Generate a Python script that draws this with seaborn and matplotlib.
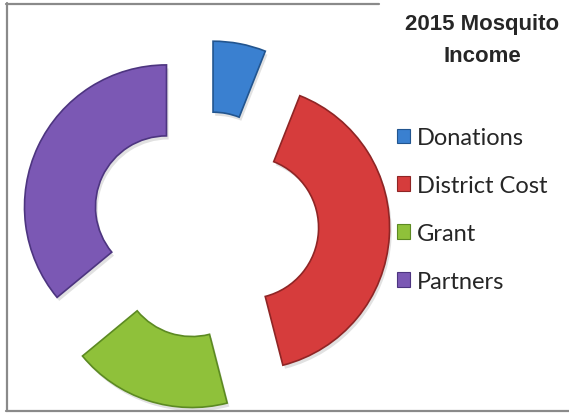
import matplotlib
matplotlib.use('Agg')
import matplotlib.pyplot as plt
import seaborn as sns
from matplotlib.lines import Line2D
from matplotlib.patches import Patch

# Income sources for 2015 (share of total)
sources = ['Donations', 'District Cost', 'Grant', 'Partners']
income = [6, 40, 18, 36]
title = '2015 Mosquito\nIncome'

colors = ['#3a80d0', '#d63c3c', '#8fc13a', '#7b58b4']
edge_colors = ['#22558f', '#8f2525', '#5c8a22', '#4d3580']

sns.set_theme(style='white')
plt.rcParams['font.family'] = ['Lato', 'DejaVu Sans']

fig = plt.figure(figsize=(5.69, 4.14), dpi=100)
ax = fig.add_axes([0, 0, 1, 1])

# soft shadow underneath the exploded ring
shadow, _ = ax.pie(income, colors=['#bdbdbd'] * 4, startangle=90, counterclock=False,
                   explode=[0.3] * 4, radius=1, center=(0.015, -0.025),
                   wedgeprops=dict(width=0.5, linewidth=0, alpha=0.45))

wedges, _ = ax.pie(income, colors=colors, startangle=90, counterclock=False,
                   explode=[0.3] * 4, radius=1,
                   wedgeprops=dict(width=0.5, linewidth=1.2))
for w, ec in zip(wedges, edge_colors):
    w.set_edgecolor(ec)

ax.set_aspect('auto')
ax.set_xlim(-1.444, 2.563)
ax.set_ylim(-1.324, 1.592)
ax.axis('off')

# legend with small square markers
handles = [Patch(facecolor=c, edgecolor=e, linewidth=0.8) for c, e in zip(colors, edge_colors)]
fig.legend(handles, sources, loc='upper left', bbox_to_anchor=(397 / 569, 1 - 128 / 414),
           frameon=False, fontsize=17, handlelength=0.55, handleheight=0.55,
           handletextpad=0.3, labelspacing=1.14, borderpad=0, borderaxespad=0)

fig.text(482 / 569, 1 - 14 / 414, title, ha='center', va='top', fontsize=16,
         fontweight='bold', family=['Liberation Sans', 'DejaVu Sans'], linespacing=1.7)

# partial chart frame (left, top, bottom)
gray = '#8a8a8a'
fig.add_artist(Line2D([7 / 569, 7 / 569], [1 - 4 / 414, 1 - 412 / 414], color=gray, lw=1.6))
fig.add_artist(Line2D([6 / 569, 379 / 569], [1 - 5 / 414, 1 - 5 / 414], color=gray, lw=1.6))
fig.add_artist(Line2D([6 / 569, 1], [1 - 412 / 414, 1 - 412 / 414], color=gray, lw=1.6))

fig.savefig('out.png', dpi=100)
